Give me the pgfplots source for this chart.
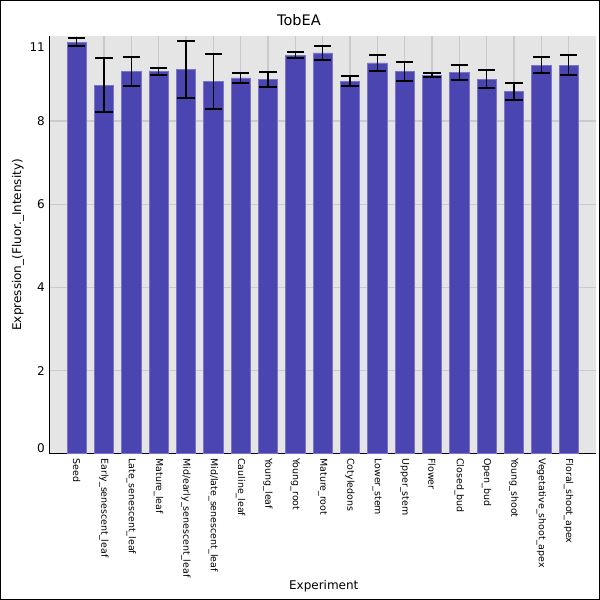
\documentclass[border=0pt]{standalone}
\usepackage{fontspec}
\setmainfont{DejaVu Sans}
\usepackage{pgfplots}
\pgfplotsset{compat=1.18}
\usepackage{pgfplotstable}
\definecolor{barfill}{RGB}{75,69,178}
\definecolor{baredge}{RGB}{122,116,202}
\definecolor{bg}{RGB}{229,229,229}
\definecolor{gridc}{RGB}{202,202,202}

\pgfplotstableread{
x y e
0 9.90 0.10
1 8.87 0.64
2 9.20 0.35
3 9.20 0.08
4 9.25 0.69
5 8.96 0.66
6 9.04 0.12
7 9.01 0.18
8 9.59 0.08
9 9.64 0.18
10 8.96 0.12
11 9.40 0.19
12 9.20 0.23
13 9.11 0.05
14 9.18 0.18
15 9.01 0.22
16 8.72 0.21
17 9.35 0.19
18 9.35 0.23
}\data

\begin{document}
\begin{tikzpicture}
\useasboundingbox (0,0) rectangle (450pt,450pt);
\begin{axis}[
  at={(36.98pt,109.73pt)}, anchor=south west,
  scale only axis, width=410pt, height=313.3pt,
  xmin=-1, xmax=19, ymin=0, ymax=10.05,
  axis lines*=left,
  axis line style={black, line width=1pt},
  axis background/.style={fill=bg},
  /pgf/number format/assume math mode=true,
  major tick length=0pt,
  xtick={0,...,18},
  xticklabels={Seed,Early\_senescent\_leaf,Late\_senescent\_leaf,Mature\_leaf,Mid/early\_senescent\_leaf,Mid/late\_senescent\_leaf,Cauline\_leaf,Young\_leaf,Young\_root,Mature\_root,Cotyledons,Lower\_stem,Upper\_stem,Flower,Closed\_bud,Open\_bud,Young\_shoot,Vegetative\_shoot\_apex,Floral\_shoot\_apex},
  xticklabel style={yshift=-3.3pt, rotate=-90, anchor=west, inner sep=0pt, font=\fontsize{7.1}{8}\selectfont},
  ytick={2,4,6,8},
  extra y ticks={0.14,9.78},
  extra y tick labels={0,11},
  extra y tick style={grid=none},
  yticklabel style={anchor=east, inner sep=0pt, xshift=-3.2pt, font=\fontsize{9}{10}\selectfont},
  xmajorgrids, ymajorgrids,
  grid style={gridc, line width=1.1pt},
  title={TobEA},
  every axis title/.style={at={(axis description cs:0.4567,1.024)}, anchor=base, font=\fontsize{10.9}{12}\selectfont},
  xlabel={Experiment},
  every axis x label/.style={at={(axis description cs:0.502,-0.3246)}, anchor=base, font=\fontsize{9}{10}\selectfont},
  ylabel={Expression\_(Fluor.\_Intensity)},
  every axis y label/.style={at={(axis description cs:-0.0573,0.5)}, rotate=90, anchor=center, font=\fontsize{9}{10}\selectfont},
  ybar, bar width=14.4pt,
]
\addplot[ybar, fill=barfill, draw=baredge, line width=0.6pt,
  error bars/.cd, y dir=both, y explicit,
  error bar style={black, line width=1pt},
  error mark options={black, line width=1.5pt, mark size=6.4pt, rotate=90}]
  table[x=x, y=y, y error=e]{\data};
\end{axis}
\draw[black, line width=1.1pt] (0.55pt,0.55pt) rectangle (449.45pt,449.45pt);
\end{tikzpicture}
\end{document}
